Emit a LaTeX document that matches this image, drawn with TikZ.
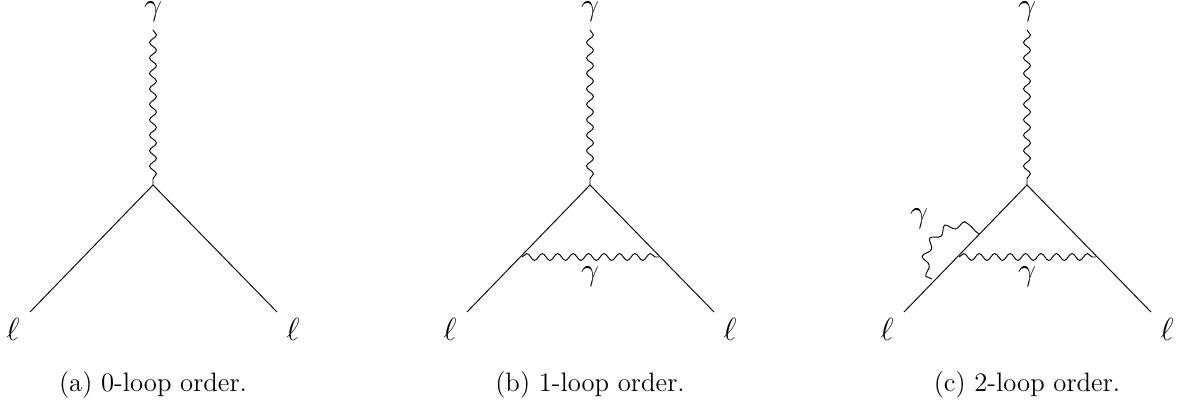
\documentclass[tikz,border=0pt]{standalone}
\usetikzlibrary{decorations.pathmorphing}
\tikzset{
  x=0.45pt,y=-0.45pt,
  fermion/.style={draw=black,line width=0.42pt},
  photon/.style={draw=black,line width=0.42pt,decorate,decoration={snake,segment length=6.95pt,amplitude=1.55pt}},
  loopphoton/.style={draw=black,line width=0.42pt,decorate,decoration={snake,segment length=8.2pt,amplitude=1.6pt}},
  lab/.style={inner sep=0pt,anchor=center,font=\fontsize{14.4}{17}\selectfont},
  captext/.style={inner sep=0pt,anchor=base,font=\fontsize{12}{14}\selectfont}
}
\begin{document}
\begin{tikzpicture}
\useasboundingbox (0,0) rectangle (1177,404);
% (a)
\coordinate (av) at (153,185);
\coordinate (at) at (153,30);
\coordinate (al) at (30,312);
\coordinate (ar) at (277,312);
\node[lab] (ag) at (153,11.5) {$\gamma$};
\node[lab] (ae1) at (13,329) {$\ell$};
\node[lab] (ae2) at (293,329) {$\ell$};
\draw[photon] (at) -- (av);
\draw[fermion] (al) -- (av) -- (ar);
\node[captext] (ac) at (153,391) {(a) 0-loop order.};
% (b)
\coordinate (bv) at (590,185);
\coordinate (bt) at (590,30);
\coordinate (bl) at (467,312);
\coordinate (br) at (714,312);
\node[lab] (bg) at (590,11.5) {$\gamma$};
\node[lab] (be1) at (450,329) {$\ell$};
\node[lab] (be2) at (730,329) {$\ell$};
\draw[photon] (bt) -- (bv);
\draw[fermion] (bl) -- (bv) -- (br);
\coordinate (bpl) at (522,257);
\coordinate (bpr) at (659,257);
\draw[photon] (bpl) -- (bpr);
\node[lab] (bg2) at (590,276.5) {$\gamma$};
\node[captext] (bc) at (590,391) {(b) 1-loop order.};
% (c)
\coordinate (cv) at (1027,185);
\coordinate (ct) at (1027,30);
\coordinate (cl) at (904,312);
\coordinate (cr) at (1151,312);
\node[lab] (cg) at (1027,11.5) {$\gamma$};
\node[lab] (ce1) at (887,329) {$\ell$};
\node[lab] (ce2) at (1167,329) {$\ell$};
\draw[photon] (ct) -- (cv);
\draw[fermion] (cl) -- (cv) -- (cr);
\coordinate (cpl) at (959,257);
\coordinate (cpr) at (1096,257);
\draw[photon] (cpl) -- (cpr);
\node[lab] (cg2) at (1027,276.5) {$\gamma$};
\coordinate (cal) at (932,279);
\coordinate (car) at (979,234);
\draw[loopphoton] (cal) .. controls (916,256) and (948,214) .. (car);
\node[lab] (cg3) at (919,219) {$\gamma$};
\node[captext] (cc) at (1027,391) {(c) 2-loop order.};
\end{tikzpicture}
\end{document}
